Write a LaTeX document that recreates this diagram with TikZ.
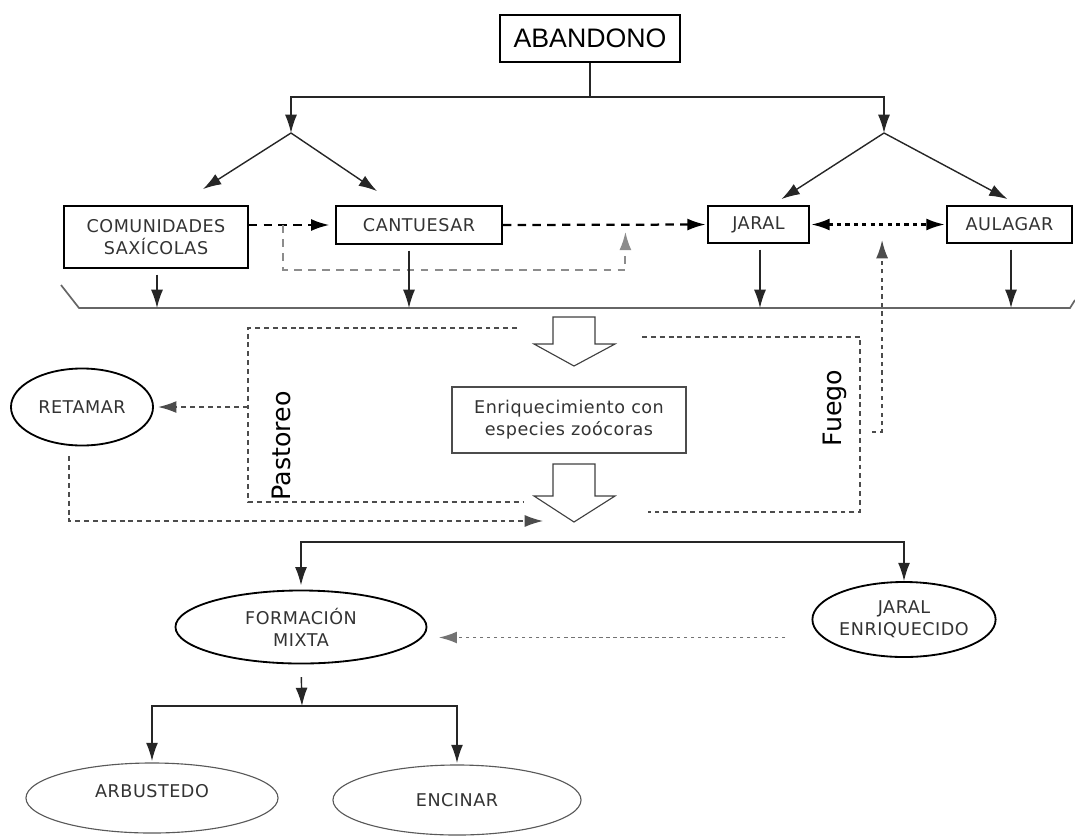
\documentclass[tikz,border=0pt]{standalone}
\usepackage{fontspec}
\setmainfont{DejaVu Sans}
\newfontfamily\arialfont{Liberation Sans}
\newfontfamily\lblfont[LetterSpace=3]{DejaVu Sans}
\usetikzlibrary{arrows.meta,calc,shapes.geometric}

\tikzset{
  head/.tip={Latex[length=13pt,width=8.5pt]},
  lbl/.style={font=\lblfont\fontsize{12.5}{15.5}\selectfont, text=black!80, align=center},
  box/.style={lbl, draw, line width=1.3pt, inner sep=0pt},
  thinbox/.style={lbl, draw=black!70, line width=0.8pt, inner sep=0pt},
  oval/.style={lbl, ellipse, draw, line width=1.3pt, inner sep=0pt},
  softoval/.style={lbl, ellipse, draw=black!65, line width=0.8pt, inner sep=0pt},
  conn/.style={-head, draw=black!85, line width=1pt},
  dashconn/.style={-head, line width=1.6pt, dash pattern=on 6pt off 4.5pt},
  greyconn/.style={-head, draw=black!45, line width=1.5pt, dash pattern=on 5.5pt off 4.5pt},
  dotconn/.style={line width=1.6pt, dash pattern=on 3pt off 3pt},
  thindash/.style={draw=black!70, line width=0.9pt, dash pattern=on 3.5pt off 2.8pt},
  greydot/.style={-head, draw=black!55, line width=1.4pt, dash pattern=on 2.5pt off 2.5pt},
  hollow/.style={draw=black!75, fill=white, line width=0.8pt},
  sidetext/.style={rotate=90, font=\fontsize{18}{20}\selectfont}
}

\begin{document}
\begin{tikzpicture}[x=0.025cm, y=-0.025cm]
  \useasboundingbox (0,0) rectangle (1075,835);

  % abandono and the two branches
  \node[box, font=\arialfont\fontsize{19}{22}\selectfont, text=black, minimum width=4.5cm, minimum height=1.175cm] (abandono) at (590,38.5) {ABANDONO};
  \coordinate (forkl) at (291,133);
  \coordinate (forkr) at (884,133);
  \draw[conn] (abandono.south) -- ++(0,34) -| (forkl);
  \draw[conn] (abandono.south) -- ++(0,34) -| (forkr);

  % first stage
  \node[box, minimum width=4.6cm, minimum height=1.55cm] (comun) at (156,237) {COMUNIDADES\\SAXÍCOLAS};
  \node[box, minimum width=4.15cm, minimum height=0.95cm] (cant) at (419,225) {CANTUESAR};
  \node[box, minimum width=2.525cm, minimum height=0.925cm] (jaral) at (758.5,224.5) {JARAL};
  \node[box, minimum width=3.125cm, minimum height=0.925cm] (aulagar) at (1009.5,224.5) {AULAGAR};

  \draw[conn] (forkl) -- ($(comun.north)+(47,-16)$);
  \draw[conn] (forkl) -- ($(cant.north)+(-42,-14)$);
  \draw[conn] (forkr) -- ($(jaral.north)+(23,-6)$);
  \draw[conn] (forkr) -- ($(aulagar.north)+(-2,-6)$);

  % successions between them
  \coordinate (split) at ($(comun.east |- cant.west)+(34,0)$);
  \coordinate (merge) at ($(cant.east)!0.6!(jaral.west)$);
  \coordinate (fire) at ($(jaral.east)!0.53!(aulagar.west)$);
  \draw[dashconn, shorten >=4pt] (comun.east |- cant.west) -- (cant.west);
  \draw[dashconn, shorten >=1pt] (cant.east) -- (jaral.west);
  \draw[greyconn, shorten >=5pt] (split) -- ++(0,45) -| (merge);
  \draw[dotconn, head-head, shorten >=1pt, shorten <=1pt] (jaral.east) -- (aulagar.west);
  \draw[dotconn, -head, draw=black!70, line width=1.3pt, shorten >=11pt] (872,432) -- (fire |- 0,432) -- (fire);

  % collecting line
  \coordinate (ground) at (0,308);
  \draw[black!60, line width=1.2pt] (61,285) -- (79,308) -- (1070,308) -- (1075,300);
  \foreach \n/\x in {comun/157, cant/409, jaral/760, aulagar/1011}
    \draw[conn, shorten <=4pt] (\n.south -| \x,0) -- (ground -| \x,0);

  % enrichment
  \foreach \y/\b/\t in {317/344/366, 464/496/522}
    \draw[hollow] (553,\y) -- (595,\y) -- (595,\b) -- (615,\b) -- (574,\t) -- (534,\b) -- (553,\b) -- cycle;
  \node[thinbox, minimum width=5.85cm, minimum height=1.65cm] (enriq) at (569,420) {Enriquecimiento con\\especies zoócoras};

  % pastoreo
  \node[oval, minimum width=3.55cm, minimum height=1.925cm] (retamar) at (82,407) {RETAMAR};
  \draw[thindash] (517,328) -- (248,328) -- (248,502) -- (523,502);
  \node[sidetext] (pastoreo) at (281,446) {Pastoreo};
  \coordinate (graze) at (248,407);
  \draw[thindash, -head, shorten >=3pt] (graze) -- (retamar.east);
  \coordinate (join) at (543,521);
  \draw[thindash, -head] ($(retamar.south)+(-13,10)$) |- (join);

  % fuego
  \draw[thindash] (642,337) -- (860,337) -- (860,512) -- (648,512);
  \node[sidetext] (fuego) at (835,408) {Fuego};

  % result
  \coordinate (spread) at (600,542);
  \node[oval, minimum width=6.275cm, minimum height=1.825cm] (formacion) at (301,627) {FORMACIÓN\\MIXTA};
  \node[oval, minimum width=4.3cm, minimum height=1.875cm] (jenriq) at (904,619.5) {JARAL\\ENRIQUECIDO};
  \draw[conn, shorten >=3pt] (spread) -| (formacion.north);
  \draw[conn] (spread) -| (jenriq.north);
  \coordinate (jdot) at ($(jenriq.west)+(-26,18)$);
  \draw[greydot, shorten >=8pt] (jdot) -- (jdot -| formacion.east);

  % final stage
  \coordinate (fork) at (302,706);
  \node[softoval, minimum width=6.3cm, minimum height=1.75cm] (arbust) at (152,798) {\raisebox{10pt}{ARBUSTEDO}};
  \node[softoval, minimum width=6.2cm, minimum height=1.75cm] (encinar) at (457,800) {ENCINAR};
  \draw[conn, shorten <=9pt] (formacion.south) -- (fork);
  \draw[conn, shorten >=1pt] (fork) -| (arbust.north);
  \draw[conn, shorten >=1pt] (fork) -| (encinar.north);
\end{tikzpicture}
\end{document}
